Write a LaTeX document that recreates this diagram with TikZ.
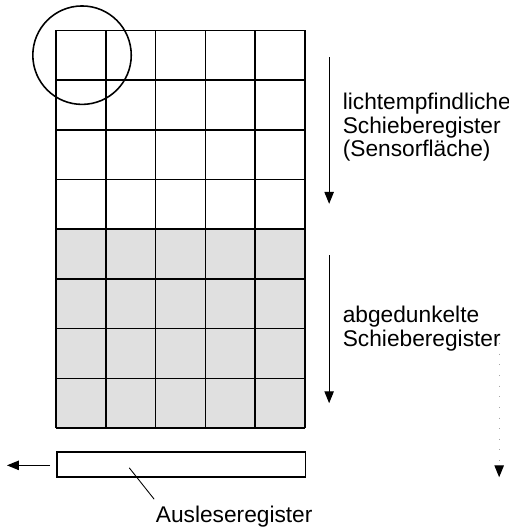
\documentclass[tikz,border=0pt]{standalone}
\usepackage{fontspec}
\setmainfont{Liberation Sans}
\usetikzlibrary{positioning}
\usetikzlibrary{arrows.meta}
\usetikzlibrary{calc}
\tikzset{every picture/.style={line width=0.9pt},
  tip/.style={line width=0.6pt,-{Triangle[length=0.24cm,width=0.19cm,color=black]}},
  lbl/.style={anchor=base west,inner sep=0pt,align=left,font=\fontsize{13}{13.2}\selectfont}}

\begin{document}
\begin{tikzpicture}
\useasboundingbox (-1.13,-1.99) rectangle (9.1,8.61);
% dark part of the sensor
\fill [black!12] (0,0) rectangle (5,4);
\draw (0,0) grid (5,8);
\draw (0.52,7.5) circle (0.99);
\node (reg) [draw, minimum width=5cm, minimum height=0.5cm, inner sep=0pt, anchor=south west] at (0,-1) {};
% base of a multi-line node sits on its last line
\node (hell) [lbl] at (5.75,5.47) {lichtempfindliche\\Schieberegister\\(Sensorfläche)};
\node (dunkel) [lbl] at (5.75,1.65) {abgedunkelte\\Schieberegister};
\node (aus) [lbl] at (1.99,-1.89) {Ausleseregister};
\coordinate (h1) at (5.49,7.46);
\coordinate (h2) at (5.49,4.51);
\coordinate (d1) at (5.49,3.48);
\coordinate (d2) at (5.49,0.50);
\coordinate (p1) at (8.91,1.71);
\coordinate (p2) at (8.91,-0.99);
\coordinate (o1) at (-0.12,-0.75);
\coordinate (o2) at (-0.99,-0.75);
\coordinate (a1) at (1.47,-0.80);
\coordinate (a2) at (1.97,-1.43);
\draw [tip] (h1) -- (h2);
\draw [tip] (d1) -- (d2);
\draw [tip, black!35, dash pattern=on 0.4pt off 0.2cm] (p1) -- (p2);
\draw [tip] (o1) -- (o2);
\draw [line width=0.5pt] (a1) -- (a2);
\end{tikzpicture}
\end{document}
